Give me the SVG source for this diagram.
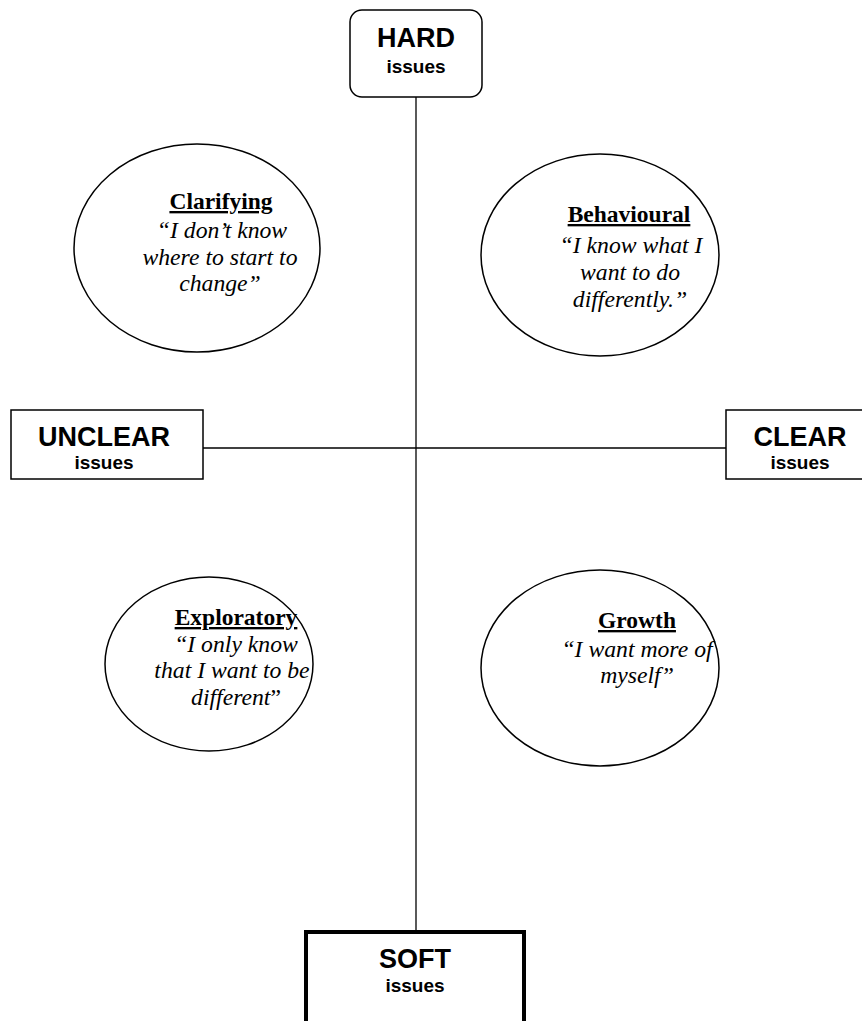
<svg xmlns="http://www.w3.org/2000/svg" width="862" height="1021" viewBox="0 0 862 1021">
<style>
.box{fill:#fff;stroke:#000;stroke-width:1.5}
.ell{fill:#fff;stroke:#000;stroke-width:1.5}
.big{font-family:"Liberation Sans",Arial,sans-serif;font-weight:bold;font-size:27px;text-anchor:middle;fill:#000}
.small{font-family:"Liberation Sans",Arial,sans-serif;font-weight:bold;font-size:19px;text-anchor:middle;fill:#000}
.ttl{font-family:"Liberation Serif","Times New Roman",serif;font-weight:bold;font-size:23.5px;text-anchor:middle;text-decoration:underline;fill:#000}
.q{font-family:"Liberation Serif","Times New Roman",serif;font-style:italic;font-size:23.7px;text-anchor:middle;fill:#000}
.conn{stroke:#000;stroke-width:1.3;fill:none}
</style>
<rect width="862" height="1021" fill="#fff"/>
<g id="connectors">
<line class="conn" x1="416" y1="97" x2="416" y2="932"/>
<line class="conn" x1="203" y1="448" x2="726" y2="448"/>
</g>
<g id="hard">
<rect class="box" x="350" y="10" width="132" height="87" rx="12"/>
<text class="big" x="416" y="47">HARD</text>
<text class="small" x="416" y="73">issues</text>
</g>
<g id="unclear">
<rect class="box" x="11" y="410" width="192" height="69"/>
<text class="big" x="104" y="446">UNCLEAR</text>
<text class="small" x="104" y="469">issues</text>
</g>
<g id="clear">
<rect class="box" x="726" y="410" width="150" height="69"/>
<text class="big" x="800" y="446">CLEAR</text>
<text class="small" x="800" y="469">issues</text>
</g>
<g id="soft">
<rect x="306" y="932" width="218" height="120" fill="#fff" stroke="#000" stroke-width="4"/>
<text class="big" x="415" y="968">SOFT</text>
<text class="small" x="415" y="992">issues</text>
</g>
<g id="clarifying">
<ellipse class="ell" cx="197" cy="248" rx="123" ry="104"/>
<text class="ttl" x="221" y="209">Clarifying</text>
<text class="q" x="222" y="238">“I don’t know</text>
<text class="q" x="220" y="265">where to start to</text>
<text class="q" x="220" y="291">change”</text>
</g>
<g id="behavioural">
<ellipse class="ell" cx="600" cy="255" rx="119" ry="101"/>
<text class="ttl" x="629" y="222">Behavioural</text>
<text class="q" x="631" y="253">“I know what I</text>
<text class="q" x="630" y="280">want to do</text>
<text class="q" x="630" y="307">differently.”</text>
</g>
<g id="exploratory">
<ellipse class="ell" cx="209" cy="664" rx="104" ry="87"/>
<text class="ttl" x="236" y="625">Exploratory</text>
<text class="q" x="236" y="652">“I only know</text>
<text class="q" x="232" y="678">that I want to be</text>
<text class="q" x="236" y="705">different<tspan font-style="normal">”</tspan></text>
</g>
<g id="growth">
<ellipse class="ell" cx="600" cy="668" rx="119" ry="98"/>
<text class="ttl" x="637" y="628">Growth</text>
<text class="q" x="637" y="657">“I want more of</text>
<text class="q" x="637" y="683">myself”</text>
</g>
</svg>
